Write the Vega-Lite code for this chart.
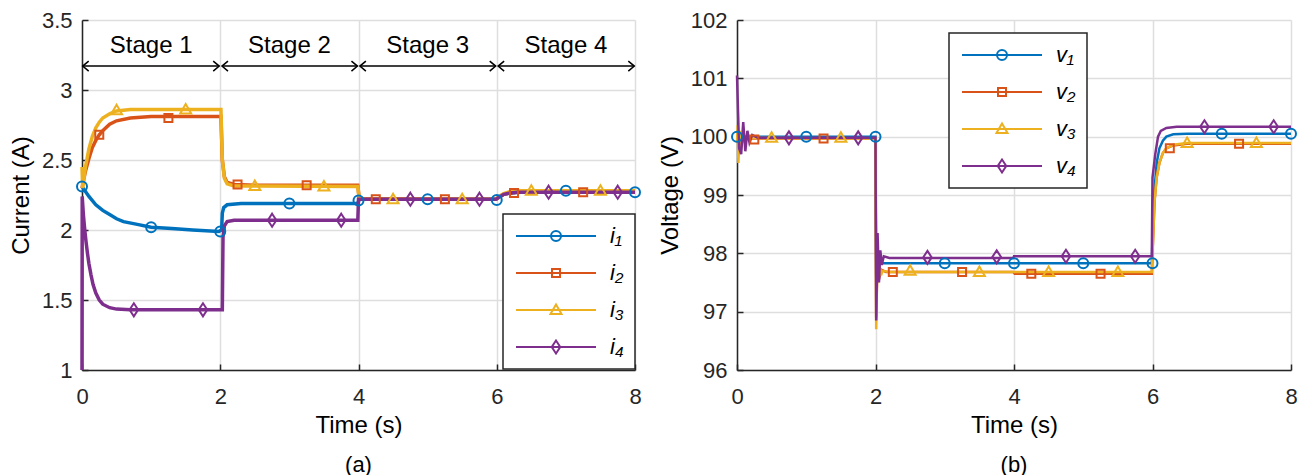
{
  "$schema": "https://vega.github.io/schema/vega-lite/v6.json",
  "background": "white",
  "padding": {"left": 9, "top": 9, "right": 5, "bottom": 0},
  "bounds": "flush",
  "spacing": 102,
  "config": {
    "font": "Liberation Sans",
    "view": {"stroke": null},
    "axis": {
      "domainColor": "#262626", "domainWidth": 1.5,
      "tickColor": "#262626", "tickWidth": 1.5, "tickSize": -6,
      "labelFontSize": 22, "labelColor": "#262626",
      "titleFontSize": 24, "titleFontWeight": "normal", "titleColor": "#000000",
      "gridColor": "#dedede", "gridWidth": 1.5, "grid": true, "format": "~g"
    },
    "axisX": {"labelPadding": 22, "titlePadding": 6, "labelFlush": false},
    "axisY": {"labelPadding": 16, "titlePadding": 8},
    "legend": {
      "padding": 11, "rowPadding": 15, "symbolSize": 100, "symbolStrokeWidth": 2, "symbolOpacity": 1,
      "symbolOffset": 31, "labelOffset": 43, "labelFontSize": 22, "labelFontStyle": "italic",
      "labelColor": "#000000", "strokeColor": "#262626", "strokeWidth": 1.5, "fillColor": "#ffffff"
    },
    "title": {"fontSize": 22, "fontWeight": "normal", "color": "#000000"}
  },
  "resolve": {
    "scale": {"color": "independent", "shape": "independent"},
    "legend": {"color": "independent", "shape": "independent"}
  },
  "datasets": {
    "cur": [
      {"t":0,"v":2.31,"s":"i₁"},{"t":0.1,"v":2.24,"s":"i₁"},{"t":0.2,"v":2.18,"s":"i₁"},{"t":0.3,"v":2.14,"s":"i₁"},{"t":0.4,"v":2.11,"s":"i₁"},{"t":0.5,"v":2.08,"s":"i₁"},{"t":0.6,"v":2.06,"s":"i₁"},{"t":0.8,"v":2.04,"s":"i₁"},{"t":1.0,"v":2.02,"s":"i₁"},{"t":1.3,"v":2.01,"s":"i₁"},{"t":1.6,"v":2.0,"s":"i₁"},{"t":1.98,"v":1.99,"s":"i₁"},{"t":2.02,"v":2.0,"s":"i₁"},{"t":2.03,"v":2.12,"s":"i₁"},{"t":2.05,"v":2.16,"s":"i₁"},{"t":2.1,"v":2.18,"s":"i₁"},{"t":2.3,"v":2.19,"s":"i₁"},{"t":3.99,"v":2.19,"s":"i₁"},{"t":4.01,"v":2.22,"s":"i₁"},{"t":5.99,"v":2.22,"s":"i₁"},{"t":6.05,"v":2.24,"s":"i₁"},{"t":6.1,"v":2.255,"s":"i₁"},{"t":6.2,"v":2.265,"s":"i₁"},{"t":6.3,"v":2.27,"s":"i₁"},{"t":8,"v":2.27,"s":"i₁"},
      {"t":0,"v":2.3,"s":"i₂"},{"t":0.05,"v":2.42,"s":"i₂"},{"t":0.1,"v":2.51,"s":"i₂"},{"t":0.15,"v":2.59,"s":"i₂"},{"t":0.2,"v":2.64,"s":"i₂"},{"t":0.25,"v":2.68,"s":"i₂"},{"t":0.3,"v":2.71,"s":"i₂"},{"t":0.4,"v":2.755,"s":"i₂"},{"t":0.5,"v":2.78,"s":"i₂"},{"t":0.7,"v":2.8,"s":"i₂"},{"t":1.0,"v":2.81,"s":"i₂"},{"t":2.01,"v":2.81,"s":"i₂"},{"t":2.03,"v":2.5,"s":"i₂"},{"t":2.06,"v":2.38,"s":"i₂"},{"t":2.1,"v":2.34,"s":"i₂"},{"t":2.2,"v":2.325,"s":"i₂"},{"t":2.5,"v":2.32,"s":"i₂"},{"t":3.99,"v":2.32,"s":"i₂"},{"t":4.01,"v":2.225,"s":"i₂"},{"t":5.99,"v":2.22,"s":"i₂"},{"t":6.05,"v":2.24,"s":"i₂"},{"t":6.1,"v":2.255,"s":"i₂"},{"t":6.2,"v":2.265,"s":"i₂"},{"t":6.3,"v":2.27,"s":"i₂"},{"t":8,"v":2.27,"s":"i₂"},
      {"t":0,"v":2.45,"s":"i₃"},{"t":0.01,"v":2.3,"s":"i₃"},{"t":0.05,"v":2.45,"s":"i₃"},{"t":0.1,"v":2.58,"s":"i₃"},{"t":0.15,"v":2.67,"s":"i₃"},{"t":0.2,"v":2.73,"s":"i₃"},{"t":0.25,"v":2.77,"s":"i₃"},{"t":0.3,"v":2.8,"s":"i₃"},{"t":0.4,"v":2.83,"s":"i₃"},{"t":0.5,"v":2.85,"s":"i₃"},{"t":0.7,"v":2.86,"s":"i₃"},{"t":2.01,"v":2.86,"s":"i₃"},{"t":2.03,"v":2.5,"s":"i₃"},{"t":2.06,"v":2.37,"s":"i₃"},{"t":2.1,"v":2.33,"s":"i₃"},{"t":2.2,"v":2.315,"s":"i₃"},{"t":3.99,"v":2.31,"s":"i₃"},{"t":4.01,"v":2.22,"s":"i₃"},{"t":5.99,"v":2.22,"s":"i₃"},{"t":6.05,"v":2.245,"s":"i₃"},{"t":6.1,"v":2.26,"s":"i₃"},{"t":6.2,"v":2.275,"s":"i₃"},{"t":6.3,"v":2.28,"s":"i₃"},{"t":8,"v":2.28,"s":"i₃"},
      {"t":0,"v":1.0,"s":"i₄"},{"t":0.003,"v":2.24,"s":"i₄"},{"t":0.02,"v":2.11,"s":"i₄"},{"t":0.04,"v":2.0,"s":"i₄"},{"t":0.06,"v":1.91,"s":"i₄"},{"t":0.08,"v":1.83,"s":"i₄"},{"t":0.1,"v":1.76,"s":"i₄"},{"t":0.13,"v":1.68,"s":"i₄"},{"t":0.16,"v":1.61,"s":"i₄"},{"t":0.2,"v":1.55,"s":"i₄"},{"t":0.25,"v":1.5,"s":"i₄"},{"t":0.3,"v":1.47,"s":"i₄"},{"t":0.4,"v":1.445,"s":"i₄"},{"t":0.5,"v":1.435,"s":"i₄"},{"t":0.7,"v":1.43,"s":"i₄"},{"t":2.03,"v":1.43,"s":"i₄"},{"t":2.04,"v":1.95,"s":"i₄"},{"t":2.06,"v":2.03,"s":"i₄"},{"t":2.1,"v":2.06,"s":"i₄"},{"t":2.2,"v":2.07,"s":"i₄"},{"t":3.99,"v":2.07,"s":"i₄"},{"t":4.0,"v":2.22,"s":"i₄"},{"t":5.99,"v":2.22,"s":"i₄"},{"t":6.05,"v":2.24,"s":"i₄"},{"t":6.1,"v":2.255,"s":"i₄"},{"t":6.2,"v":2.265,"s":"i₄"},{"t":6.3,"v":2.27,"s":"i₄"},{"t":8,"v":2.27,"s":"i₄"}
    ],
    "curm": [
      {"t":0,"v":2.31,"s":"i₁"},{"t":1,"v":2.02,"s":"i₁"},{"t":2,"v":1.99,"s":"i₁"},{"t":3,"v":2.19,"s":"i₁"},{"t":4,"v":2.21,"s":"i₁"},{"t":5,"v":2.22,"s":"i₁"},{"t":6,"v":2.215,"s":"i₁"},{"t":7,"v":2.28,"s":"i₁"},{"t":8,"v":2.27,"s":"i₁"},
      {"t":0.25,"v":2.68,"s":"i₂"},{"t":1.25,"v":2.8,"s":"i₂"},{"t":2.25,"v":2.325,"s":"i₂"},{"t":3.25,"v":2.32,"s":"i₂"},{"t":4.25,"v":2.22,"s":"i₂"},{"t":5.25,"v":2.22,"s":"i₂"},{"t":6.25,"v":2.265,"s":"i₂"},{"t":7.25,"v":2.27,"s":"i₂"},
      {"t":0.5,"v":2.855,"s":"i₃"},{"t":1.5,"v":2.86,"s":"i₃"},{"t":2.5,"v":2.315,"s":"i₃"},{"t":3.5,"v":2.31,"s":"i₃"},{"t":4.5,"v":2.22,"s":"i₃"},{"t":5.5,"v":2.22,"s":"i₃"},{"t":6.5,"v":2.28,"s":"i₃"},{"t":7.5,"v":2.28,"s":"i₃"},
      {"t":0.75,"v":1.43,"s":"i₄"},{"t":1.75,"v":1.43,"s":"i₄"},{"t":2.75,"v":2.07,"s":"i₄"},{"t":3.75,"v":2.07,"s":"i₄"},{"t":4.75,"v":2.22,"s":"i₄"},{"t":5.75,"v":2.22,"s":"i₄"},{"t":6.75,"v":2.27,"s":"i₄"},{"t":7.75,"v":2.27,"s":"i₄"}
    ],
    "volt": [
      {"t":0,"v":100.0,"s":"v₁"},{"t":2.0,"v":100.0,"s":"v₁"},{"t":2.01,"v":97.6,"s":"v₁"},{"t":2.03,"v":97.75,"s":"v₁"},{"t":2.06,"v":97.82,"s":"v₁"},{"t":2.1,"v":97.83,"s":"v₁"},{"t":5.99,"v":97.83,"s":"v₁"},{"t":6.0,"v":98.3,"s":"v₁"},{"t":6.03,"v":99.1,"s":"v₁"},{"t":6.06,"v":99.55,"s":"v₁"},{"t":6.1,"v":99.8,"s":"v₁"},{"t":6.15,"v":99.93,"s":"v₁"},{"t":6.2,"v":100.0,"s":"v₁"},{"t":6.3,"v":100.04,"s":"v₁"},{"t":6.5,"v":100.05,"s":"v₁"},{"t":8,"v":100.05,"s":"v₁"},
      {"t":0,"v":99.9,"s":"v₂"},{"t":0.03,"v":100.05,"s":"v₂"},{"t":0.06,"v":99.93,"s":"v₂"},{"t":0.1,"v":99.97,"s":"v₂"},{"t":2.0,"v":99.97,"s":"v₂"},{"t":2.01,"v":96.9,"s":"v₂"},{"t":2.03,"v":97.85,"s":"v₂"},{"t":2.05,"v":97.55,"s":"v₂"},{"t":2.08,"v":97.72,"s":"v₂"},{"t":2.15,"v":97.68,"s":"v₂"},{"t":3.99,"v":97.68,"s":"v₂"},{"t":4.01,"v":97.65,"s":"v₂"},{"t":5.99,"v":97.65,"s":"v₂"},{"t":6.0,"v":98.0,"s":"v₂"},{"t":6.03,"v":98.9,"s":"v₂"},{"t":6.06,"v":99.3,"s":"v₂"},{"t":6.1,"v":99.55,"s":"v₂"},{"t":6.15,"v":99.72,"s":"v₂"},{"t":6.2,"v":99.8,"s":"v₂"},{"t":6.3,"v":99.85,"s":"v₂"},{"t":6.5,"v":99.88,"s":"v₂"},{"t":8,"v":99.88,"s":"v₂"},
      {"t":0,"v":99.9,"s":"v₃"},{"t":0.01,"v":100.2,"s":"v₃"},{"t":0.02,"v":99.55,"s":"v₃"},{"t":0.04,"v":100.1,"s":"v₃"},{"t":0.06,"v":99.8,"s":"v₃"},{"t":0.08,"v":100.02,"s":"v₃"},{"t":0.1,"v":99.93,"s":"v₃"},{"t":0.15,"v":99.98,"s":"v₃"},{"t":2.0,"v":99.97,"s":"v₃"},{"t":2.01,"v":96.7,"s":"v₃"},{"t":2.025,"v":97.95,"s":"v₃"},{"t":2.04,"v":97.5,"s":"v₃"},{"t":2.06,"v":97.78,"s":"v₃"},{"t":2.08,"v":97.62,"s":"v₃"},{"t":2.1,"v":97.7,"s":"v₃"},{"t":2.2,"v":97.68,"s":"v₃"},{"t":5.99,"v":97.68,"s":"v₃"},{"t":6.0,"v":98.0,"s":"v₃"},{"t":6.03,"v":98.9,"s":"v₃"},{"t":6.06,"v":99.3,"s":"v₃"},{"t":6.1,"v":99.55,"s":"v₃"},{"t":6.15,"v":99.72,"s":"v₃"},{"t":6.2,"v":99.8,"s":"v₃"},{"t":6.3,"v":99.86,"s":"v₃"},{"t":6.5,"v":99.89,"s":"v₃"},{"t":8,"v":99.89,"s":"v₃"},
      {"t":0,"v":101.05,"s":"v₄"},{"t":0.03,"v":99.8,"s":"v₄"},{"t":0.06,"v":99.7,"s":"v₄"},{"t":0.09,"v":100.25,"s":"v₄"},{"t":0.12,"v":99.75,"s":"v₄"},{"t":0.15,"v":100.1,"s":"v₄"},{"t":0.18,"v":99.9,"s":"v₄"},{"t":0.22,"v":100.03,"s":"v₄"},{"t":0.3,"v":99.98,"s":"v₄"},{"t":2.0,"v":99.98,"s":"v₄"},{"t":2.01,"v":96.85,"s":"v₄"},{"t":2.03,"v":98.35,"s":"v₄"},{"t":2.05,"v":97.5,"s":"v₄"},{"t":2.07,"v":98.05,"s":"v₄"},{"t":2.09,"v":97.8,"s":"v₄"},{"t":2.12,"v":97.95,"s":"v₄"},{"t":2.2,"v":97.92,"s":"v₄"},{"t":3.99,"v":97.92,"s":"v₄"},{"t":4.0,"v":97.95,"s":"v₄"},{"t":5.99,"v":97.95,"s":"v₄"},{"t":6.0,"v":99.3,"s":"v₄"},{"t":6.04,"v":99.7,"s":"v₄"},{"t":6.08,"v":100.0,"s":"v₄"},{"t":6.12,"v":100.1,"s":"v₄"},{"t":6.2,"v":100.15,"s":"v₄"},{"t":6.35,"v":100.17,"s":"v₄"},{"t":8,"v":100.17,"s":"v₄"}
    ],
    "voltm": [
      {"t":0,"v":100.0,"s":"v₁"},{"t":1,"v":100.0,"s":"v₁"},{"t":2,"v":100.0,"s":"v₁"},{"t":3,"v":97.83,"s":"v₁"},{"t":4,"v":97.83,"s":"v₁"},{"t":5,"v":97.83,"s":"v₁"},{"t":6,"v":97.83,"s":"v₁"},{"t":7,"v":100.05,"s":"v₁"},{"t":8,"v":100.05,"s":"v₁"},
      {"t":0.25,"v":99.95,"s":"v₂"},{"t":1.25,"v":99.97,"s":"v₂"},{"t":2.25,"v":97.68,"s":"v₂"},{"t":3.25,"v":97.68,"s":"v₂"},{"t":4.25,"v":97.65,"s":"v₂"},{"t":5.25,"v":97.65,"s":"v₂"},{"t":6.25,"v":99.8,"s":"v₂"},{"t":7.25,"v":99.88,"s":"v₂"},
      {"t":0.5,"v":99.98,"s":"v₃"},{"t":1.5,"v":99.98,"s":"v₃"},{"t":2.5,"v":97.7,"s":"v₃"},{"t":3.5,"v":97.68,"s":"v₃"},{"t":4.5,"v":97.68,"s":"v₃"},{"t":5.5,"v":97.68,"s":"v₃"},{"t":6.5,"v":99.89,"s":"v₃"},{"t":7.5,"v":99.89,"s":"v₃"},
      {"t":0.75,"v":99.98,"s":"v₄"},{"t":1.75,"v":99.98,"s":"v₄"},{"t":2.75,"v":97.93,"s":"v₄"},{"t":3.75,"v":97.94,"s":"v₄"},{"t":4.75,"v":97.95,"s":"v₄"},{"t":5.75,"v":97.95,"s":"v₄"},{"t":6.75,"v":100.17,"s":"v₄"},{"t":7.75,"v":100.17,"s":"v₄"}
    ],
    "stages": [
      {"stage":"Stage 1","start":0.01,"end":1.985,"center":1},
      {"stage":"Stage 2","start":2.025,"end":3.985,"center":3},
      {"stage":"Stage 3","start":4.02,"end":5.985,"center":5},
      {"stage":"Stage 4","start":6.02,"end":7.99,"center":7}
    ]
  },
  "hconcat": [
    {
      "width": 553, "height": 350,
      "title": {"text": "(a)", "orient": "bottom", "anchor": "middle", "frame": "group", "offset": 18},
      "layer": [
        {
          "data": {"name": "cur"},
          "mark": {"type": "line", "strokeWidth": 3.5},
          "encoding": {
            "x": {"field": "t", "type": "quantitative", "scale": {"domain": [0, 8], "nice": false}, "axis": {"values": [0, 2, 4, 6, 8], "title": "Time (s)"}},
            "y": {"field": "v", "type": "quantitative", "scale": {"domain": [1, 3.5], "nice": false, "zero": false}, "axis": {"values": [1, 1.5, 2, 2.5, 3, 3.5], "title": "Current (A)"}},
            "color": {"field": "s", "type": "nominal", "scale": {"domain": ["i₁","i₂","i₃","i₄"], "range": ["#0072BD","#D95319","#EDB120","#7E2F8E"]}}
          }
        },
        {
          "data": {"name": "curm"}, "transform": [{"filter": {"field": "t", "range": [2, 6]}}],
          "mark": {"type": "point", "filled": false, "size": 100, "strokeWidth": 2, "opacity": 0},
          "encoding": {
            "x": {"field": "t", "type": "quantitative"},
            "y": {"field": "v", "type": "quantitative"},
            "color": {"field": "s", "type": "nominal", "legend": {"orient": "none", "legendX": 421, "legendY": 194, "title": null}},
            "shape": {"field": "s", "type": "nominal", "scale": {"domain": ["i₁","i₂","i₃","i₄"], "range": ["M-8,0L8,0M1,0A1,1,0,1,1,-1,0A1,1,0,1,1,1,0", "M-8,0L8,0M-0.8,-0.8L0.8,-0.8L0.8,0.8L-0.8,0.8Z", "M-8,0L8,0M0,-1.1L1.1,0.8L-1.1,0.8Z", "M-8,0L8,0M0,-1.3L0.85,0L0,1.3L-0.85,0Z"]},
              "legend": {"orient": "none", "legendX": 421, "legendY": 194, "title": null}}
          }
        },
        {
          "data": {"name": "curm"}, "transform": [{"filter": {"field": "s", "equal": "i₁"}}],
          "mark": {"type": "point", "filled": false, "size": 100, "strokeWidth": 2, "opacity": 1, "shape": "circle"},
          "encoding": {"x": {"field": "t", "type": "quantitative"}, "y": {"field": "v", "type": "quantitative"}, "color": {"field": "s", "type": "nominal"}}
        },
        {
          "data": {"name": "curm"}, "transform": [{"filter": {"field": "s", "equal": "i₂"}}],
          "mark": {"type": "point", "filled": false, "size": 100, "strokeWidth": 2, "opacity": 1, "shape": "M-0.8,-0.8L0.8,-0.8L0.8,0.8L-0.8,0.8Z"},
          "encoding": {"x": {"field": "t", "type": "quantitative"}, "y": {"field": "v", "type": "quantitative"}, "color": {"field": "s", "type": "nominal"}}
        },
        {
          "data": {"name": "curm"}, "transform": [{"filter": {"field": "s", "equal": "i₃"}}],
          "mark": {"type": "point", "filled": false, "size": 100, "strokeWidth": 2, "opacity": 1, "shape": "M0,-1.1L1.1,0.8L-1.1,0.8Z"},
          "encoding": {"x": {"field": "t", "type": "quantitative"}, "y": {"field": "v", "type": "quantitative"}, "color": {"field": "s", "type": "nominal"}}
        },
        {
          "data": {"name": "curm"}, "transform": [{"filter": {"field": "s", "equal": "i₄"}}],
          "mark": {"type": "point", "filled": false, "size": 100, "strokeWidth": 2, "opacity": 1, "shape": "M0,-1.3L0.85,0L0,1.3L-0.85,0Z"},
          "encoding": {"x": {"field": "t", "type": "quantitative"}, "y": {"field": "v", "type": "quantitative"}, "color": {"field": "s", "type": "nominal"}}
        },
        {
          "data": {"name": "stages"},
          "mark": {"type": "rule", "color": "#000000", "strokeWidth": 1.5},
          "encoding": {"x": {"field": "start", "type": "quantitative"}, "x2": {"field": "end"}, "y": {"datum": 3.171}}
        },
        {
          "data": {"name": "stages"},
          "mark": {"type": "point", "filled": false, "color": "#000000", "strokeWidth": 1.5, "size": 100, "opacity": 1, "shape": "M1.2,-1L0,0L1.2,1"},
          "encoding": {"x": {"field": "start", "type": "quantitative"}, "y": {"datum": 3.171}}
        },
        {
          "data": {"name": "stages"},
          "mark": {"type": "point", "filled": false, "color": "#000000", "strokeWidth": 1.5, "size": 100, "opacity": 1, "shape": "M-1.2,-1L0,0L-1.2,1"},
          "encoding": {"x": {"field": "end", "type": "quantitative"}, "y": {"datum": 3.171}}
        },
        {
          "data": {"name": "stages"},
          "mark": {"type": "text", "fontSize": 24, "color": "#000000", "align": "center", "baseline": "alphabetic"},
          "encoding": {"x": {"field": "center", "type": "quantitative"}, "y": {"datum": 3.266}, "text": {"field": "stage"}}
        }
      ]
    },
    {
      "width": 554, "height": 350,
      "title": {"text": "(b)", "orient": "bottom", "anchor": "middle", "frame": "group", "offset": 18},
      "layer": [
        {
          "data": {"name": "volt"},
          "mark": {"type": "line", "strokeWidth": 2.5},
          "encoding": {
            "x": {"field": "t", "type": "quantitative", "scale": {"domain": [0, 8], "nice": false}, "axis": {"values": [0, 2, 4, 6, 8], "title": "Time (s)"}},
            "y": {"field": "v", "type": "quantitative", "scale": {"domain": [96, 102], "nice": false, "zero": false}, "axis": {"values": [96, 97, 98, 99, 100, 101, 102], "title": "Voltage (V)"}},
            "color": {"field": "s", "type": "nominal", "scale": {"domain": ["v₁","v₂","v₃","v₄"], "range": ["#0072BD","#D95319","#EDB120","#7E2F8E"]}}
          }
        },
        {
          "data": {"name": "voltm"}, "transform": [{"filter": {"field": "t", "range": [2, 6]}}],
          "mark": {"type": "point", "filled": false, "size": 100, "strokeWidth": 2, "opacity": 0},
          "encoding": {
            "x": {"field": "t", "type": "quantitative"},
            "y": {"field": "v", "type": "quantitative"},
            "color": {"field": "s", "type": "nominal", "legend": {"orient": "none", "legendX": 212, "legendY": 13, "title": null}},
            "shape": {"field": "s", "type": "nominal", "scale": {"domain": ["v₁","v₂","v₃","v₄"], "range": ["M-8,0L8,0M1,0A1,1,0,1,1,-1,0A1,1,0,1,1,1,0", "M-8,0L8,0M-0.8,-0.8L0.8,-0.8L0.8,0.8L-0.8,0.8Z", "M-8,0L8,0M0,-1.1L1.1,0.8L-1.1,0.8Z", "M-8,0L8,0M0,-1.3L0.85,0L0,1.3L-0.85,0Z"]},
              "legend": {"orient": "none", "legendX": 212, "legendY": 13, "title": null}}
          }
        },
        {
          "data": {"name": "voltm"}, "transform": [{"filter": {"field": "s", "equal": "v₁"}}],
          "mark": {"type": "point", "filled": false, "size": 100, "strokeWidth": 2, "opacity": 1, "shape": "circle"},
          "encoding": {"x": {"field": "t", "type": "quantitative"}, "y": {"field": "v", "type": "quantitative"}, "color": {"field": "s", "type": "nominal"}}
        },
        {
          "data": {"name": "voltm"}, "transform": [{"filter": {"field": "s", "equal": "v₂"}}],
          "mark": {"type": "point", "filled": false, "size": 100, "strokeWidth": 2, "opacity": 1, "shape": "M-0.8,-0.8L0.8,-0.8L0.8,0.8L-0.8,0.8Z"},
          "encoding": {"x": {"field": "t", "type": "quantitative"}, "y": {"field": "v", "type": "quantitative"}, "color": {"field": "s", "type": "nominal"}}
        },
        {
          "data": {"name": "voltm"}, "transform": [{"filter": {"field": "s", "equal": "v₃"}}],
          "mark": {"type": "point", "filled": false, "size": 100, "strokeWidth": 2, "opacity": 1, "shape": "M0,-1.1L1.1,0.8L-1.1,0.8Z"},
          "encoding": {"x": {"field": "t", "type": "quantitative"}, "y": {"field": "v", "type": "quantitative"}, "color": {"field": "s", "type": "nominal"}}
        },
        {
          "data": {"name": "voltm"}, "transform": [{"filter": {"field": "s", "equal": "v₄"}}],
          "mark": {"type": "point", "filled": false, "size": 100, "strokeWidth": 2, "opacity": 1, "shape": "M0,-1.3L0.85,0L0,1.3L-0.85,0Z"},
          "encoding": {"x": {"field": "t", "type": "quantitative"}, "y": {"field": "v", "type": "quantitative"}, "color": {"field": "s", "type": "nominal"}}
        }
      ]
    }
  ]
}
